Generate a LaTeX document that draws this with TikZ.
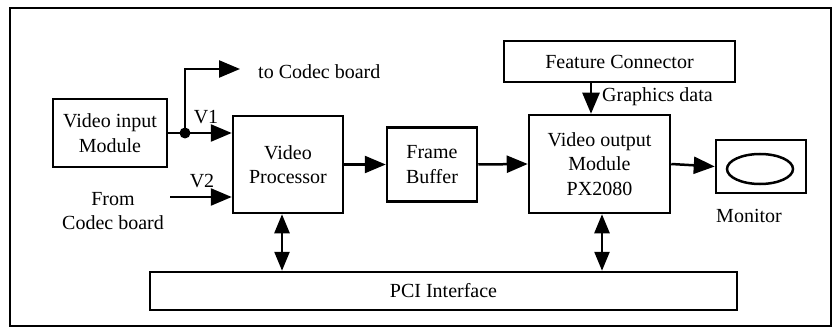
\documentclass[tikz,border=0pt]{standalone}
\usepackage{fontspec}
\setmainfont{Liberation Serif}
\usetikzlibrary{arrows.meta,shapes.geometric}
\begin{document}
\begin{tikzpicture}[x=1pt,y=-1pt,
  every node/.style={font=\fontsize{20}{24.5}\selectfont},
  blk/.style={draw,line width=2.5pt,inner sep=0pt,align=center},
  arr/.style={line width=2.5pt,-{Triangle[length=21pt,width=17pt]}},
  darr/.style={line width=2.5pt,{Triangle[length=19pt,width=15pt]}-{Triangle[length=19pt,width=15pt]}},
  lbl/.style={inner sep=0pt}]
\useasboundingbox (0,0) rectangle (834,331);
\draw[line width=2.5pt] (10,8) rectangle (831,326);
% blocks
\node[blk,minimum width=114,minimum height=68] (vin) at (110,133) {Video input\\Module};
\node[blk,minimum width=110,minimum height=97] (vp) at (288,164.5) {Video\\Processor};
\node[blk,minimum width=90,minimum height=74] (fb) at (432,164.5) {Frame\\Buffer};
\node[blk,minimum width=141,minimum height=98] (vo) at (599.5,164) {Video output\\Module\\PX2080};
\node[blk,minimum width=231,minimum height=41] (fc) at (619.5,61.5) {Feature Connector};
\node[blk,minimum width=90,minimum height=53] (mon) at (761,166.5) {};
\node[draw,ellipse,line width=2.5pt,minimum width=66,minimum height=30,inner sep=0pt] (scr) at (760,169) {};
\node[blk,minimum width=587,minimum height=38] (pci) at (443.5,291) {PCI Interface};
% labels
\node[lbl] (monl) at (749,216) {Monitor};
\node[lbl,anchor=west] (tcl) at (258,72) {to Codec board};
\node[lbl] (v1) at (206,117) {V1};
\node[lbl] (v2) at (202,181) {V2};
\node[lbl,anchor=west] (gd) at (602,97) {Graphics data};
\node[lbl,align=center] (from) at (113,211) {From\\Codec board};
% coordinates
\coordinate (dot) at (185,133);
\coordinate (tc) at (240,69);
\coordinate (v2s) at (170,197);
\coordinate (xg) at (591,0);
\coordinate (xa) at (282,0);
\coordinate (xb) at (602,0);
% connectors
\draw[arr] (vin.east) -- (vin.east -| vp.west);
\fill (dot) circle (5.5pt);
\draw[arr] (dot) |- (tc);
\draw[arr] (v2s) -- (v2s -| vp.west);
\draw[arr] (vp.east) -- (fb.west);
\draw[arr] (fb.east) -- (vo.west);
\draw[arr] (vo.east) -- (mon.west);
\draw[arr] (fc.south -| xg) -- (vo.north -| xg);
\draw[darr] (vp.south -| xa) -- (pci.north -| xa);
\draw[darr] (vo.south -| xb) -- (pci.north -| xb);
\end{tikzpicture}
\end{document}
